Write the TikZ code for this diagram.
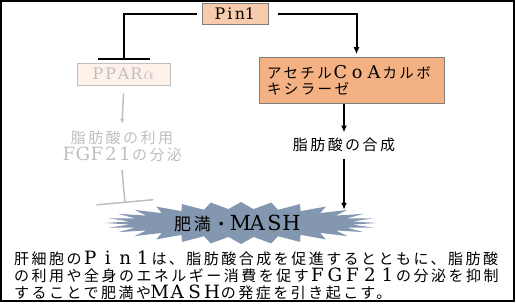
\documentclass[tikz,border=0pt]{standalone}
\usepackage{fontspec}
\setmainfont{Noto Sans CJK JP}[LetterSpace=16.5]
\newfontfamily\lat{DejaVu Serif}[Scale=1.22]
\usepackage{tikz}
\usetikzlibrary{positioning}
\usetikzlibrary{arrows.meta}

\definecolor{pinfill}{HTML}{F8CBAD}
\definecolor{accfill}{HTML}{F4B183}
\definecolor{pparfill}{HTML}{FDF1EA}
\definecolor{boxline}{HTML}{7F7F7F}
\definecolor{paletext}{HTML}{BFBFBF}
\definecolor{burstfill}{HTML}{8497B0}

% full-width latin letters
\newlength\fwwd
\newcommand\fw[2][1.165em]{\setlength\fwwd{#1}\fwloop#2\relax}
\def\fwloop#1{\ifx\relax#1\else\makebox[\fwwd]{\lat#1}\expandafter\fwloop\fi}

\begin{document}
\begin{tikzpicture}[x=1pt, y=-1pt,
    box/.style={draw=boxline, line width=0.8pt, inner sep=0pt},
    link/.style={line width=2pt},
    paleline/.style={line width=1.5pt, draw=paletext},
    tip/.style={-{Latex[length=7pt,width=6pt]}},
    txt/.style={font=\fontsize{15}{17}\selectfont},
  ]
    \useasboundingbox (0,0) rectangle (516,306);
    \draw[line width=2pt] (1,1) rectangle (514,301);

    \node[box, fill=pinfill, minimum width=66pt, minimum height=21pt, font=\fontsize{13}{13}\selectfont] (pin) at (235,13.5) {\fw[10pt]{Pin1}};
    \node[box, draw=paletext, fill=pparfill, minimum width=93pt, minimum height=22pt, text=paletext, font=\fontsize{13}{13}\selectfont] (ppar) at (123.5,74) {\fw[12.8pt]{PPAR}\makebox[12.8pt]{\fontsize{17}{17}\selectfont$\alpha$}};
    \node[box, fill=accfill, minimum width=185pt, minimum height=37pt, text width=169pt, inner sep=8pt, align=left, font=\fontsize{14.5}{16}\selectfont] (acc) at (351.5,80.5) {アセチル\fw{CoA}カルボ\\キシラーゼ};

    \node[txt, text=paletext, align=center] (use) at (122,146) {脂肪酸の利用\\\fw[14pt]{FGF21}の分泌};
    \node[txt] (syn) at (344,145) {脂肪酸の合成};
    \coordinate (usebar) at (125,203);

    \fill[burstfill] plot[domain=0:360, samples=57, variable=\t]
        ({241+cos(\t)*(136-24*mod(round(\t/6.428571),2))}, {223+sin(\t)*(21-7*mod(round(\t/6.428571),2))}) -- cycle;
    \node[minimum height=26pt, font=\fontsize{17}{17}\selectfont] (obes) at (237,223) {肥満\hspace{2pt}・\hspace{2pt}\fw[17pt]{MASH}};

    \node[txt, anchor=north west, align=left, inner sep=0pt] (desc) at (14,251) {肝細胞の\fw{Pin1}は、脂肪酸合成を促進するとともに、脂肪酸\\
    の利用や全身のエネルギー消費を促す\fw{FGF21}の分泌を抑制\\
    することで肥満や\fw{MASH}の発症を引き起こす。};

    \draw[link, -{Bar[width=52pt]}] ([xshift=-5pt]pin.west) -| ([yshift=3pt]ppar.north);
    \draw[link, tip] ([xshift=10pt]pin.east) -| ([xshift=5pt,yshift=3pt]acc.north);
    \draw[paleline, -{Latex[length=5pt,width=4pt]}] ([yshift=-8pt]ppar.south) -- ([yshift=3pt]use.north);
    \draw[paleline, -{Bar[width=57pt]}] ([yshift=-5pt]use.south) -- (usebar);
    \draw[link, tip] (acc.south -| syn.north) -- ([yshift=2pt]syn.north);
    \draw[link, tip] ([yshift=-3pt]syn.south) -- (syn.south |- obes.north);
\end{tikzpicture}
\end{document}
